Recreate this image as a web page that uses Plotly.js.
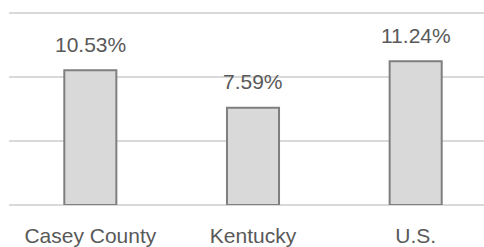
<!DOCTYPE html>
<html>
<head>
<meta charset="utf-8">
<script src="https://cdn.plot.ly/plotly-3.0.1.min.js"></script>
<style>html,body{margin:0;padding:0;background:#fff;}#chart{width:484px;height:247px;}</style>
</head>
<body>
<div id="chart"></div>
<script>
const categories = ["Casey County", "Kentucky", "U.S."];
const values = [10.53, 7.59, 11.24];
const labels = ["10.53%", "7.59%", "11.24%"];

const font = "Liberation Sans, Arial, sans-serif";
const textColor = "#595959";

const trace = {
  type: "bar",
  x: categories,
  y: values,
  width: 0.32,
  marker: { color: "#d9d9d9", line: { color: "#7f7f7f", width: 2 } },
  hoverinfo: "none"
};

const annotations = categories.map((c, i) => ({
  x: c, y: values[i], text: labels[i],
  xref: "x", yref: "y",
  showarrow: false, yanchor: "middle", yshift: 26,
  font: { family: font, size: 21, color: textColor }
}));

const layout = {
  width: 484, height: 247,
  margin: { l: 9, r: 0, t: 12, b: 42 },
  paper_bgcolor: "#fff", plot_bgcolor: "#fff",
  showlegend: false,
  xaxis: {
    type: "category",
    range: [-0.5, 2.42],
    showgrid: false, zeroline: false, showline: false,
    ticks: "outside", ticklen: 12, tickcolor: "rgba(0,0,0,0)",
    tickfont: { family: font, size: 21, color: textColor }
  },
  yaxis: {
    range: [0, 15.08],
    tickvals: [0, 5, 10, 15],
    showticklabels: false,
    showgrid: true, gridcolor: "#d9d9d9", gridwidth: 1.3,
    zeroline: true, zerolinecolor: "#d9d9d9", zerolinewidth: 1.3,
    showline: false
  },
  annotations: annotations
};

Plotly.newPlot("chart", [trace], layout, { displayModeBar: false, staticPlot: true });
</script>
</body>
</html>
